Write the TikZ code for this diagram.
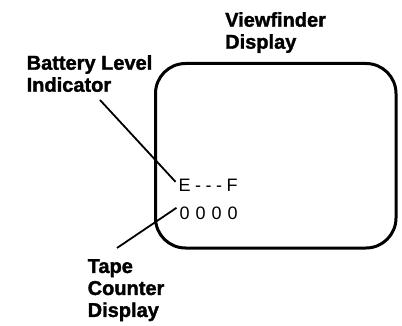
\documentclass[tikz,border=0pt]{standalone}
\usepackage{fontspec}
\setmainfont{Liberation Sans}
\newfontfamily\labelfont[FakeBold=1.6]{Liberation Sans Bold}
\newfontfamily\dispfont{Liberation Sans}
\begin{document}
\begin{tikzpicture}[x=1pt,y=-1pt,
  lbl/.style={font=\labelfont\fontsize{20}{22}\selectfont, align=left, inner sep=0pt, anchor=north west},
  disp/.style={font=\dispfont\fontsize{18}{20}\selectfont, inner sep=0pt, anchor=base west},
  leader/.style={line width=1.8pt},
  screen/.style={line width=3pt, rounded corners=30pt}]
\useasboundingbox (0,0) rectangle (402,326);
\draw[screen] (155.5,63.5) rectangle (396,248);
\node[lbl] (vf) at (225,12) {Viewfinder\\Display};
\node[lbl] (bl) at (26.5,55) {Battery Level\\Indicator};
\node[lbl] (tc) at (87.5,259) {Tape\\Counter\\Display};
\node[disp] (ef) at (178.5,192) {E\hspace{4.5pt}-\hspace{4.5pt}-\hspace{4.5pt}-\hspace{4.5pt}F};
\node[disp] (cnt) at (179.5,220) {0\hspace{6pt}0\hspace{6pt}0\hspace{6pt}0};
\coordinate (blend) at (100,100);
\coordinate (tcend) at (117,248);
\draw[leader] (blend) -- ([xshift=-3pt,yshift=4pt]ef.west);
\draw[leader] (tcend) -- ([xshift=-3pt,yshift=6pt]cnt.west);
\end{tikzpicture}
\end{document}
